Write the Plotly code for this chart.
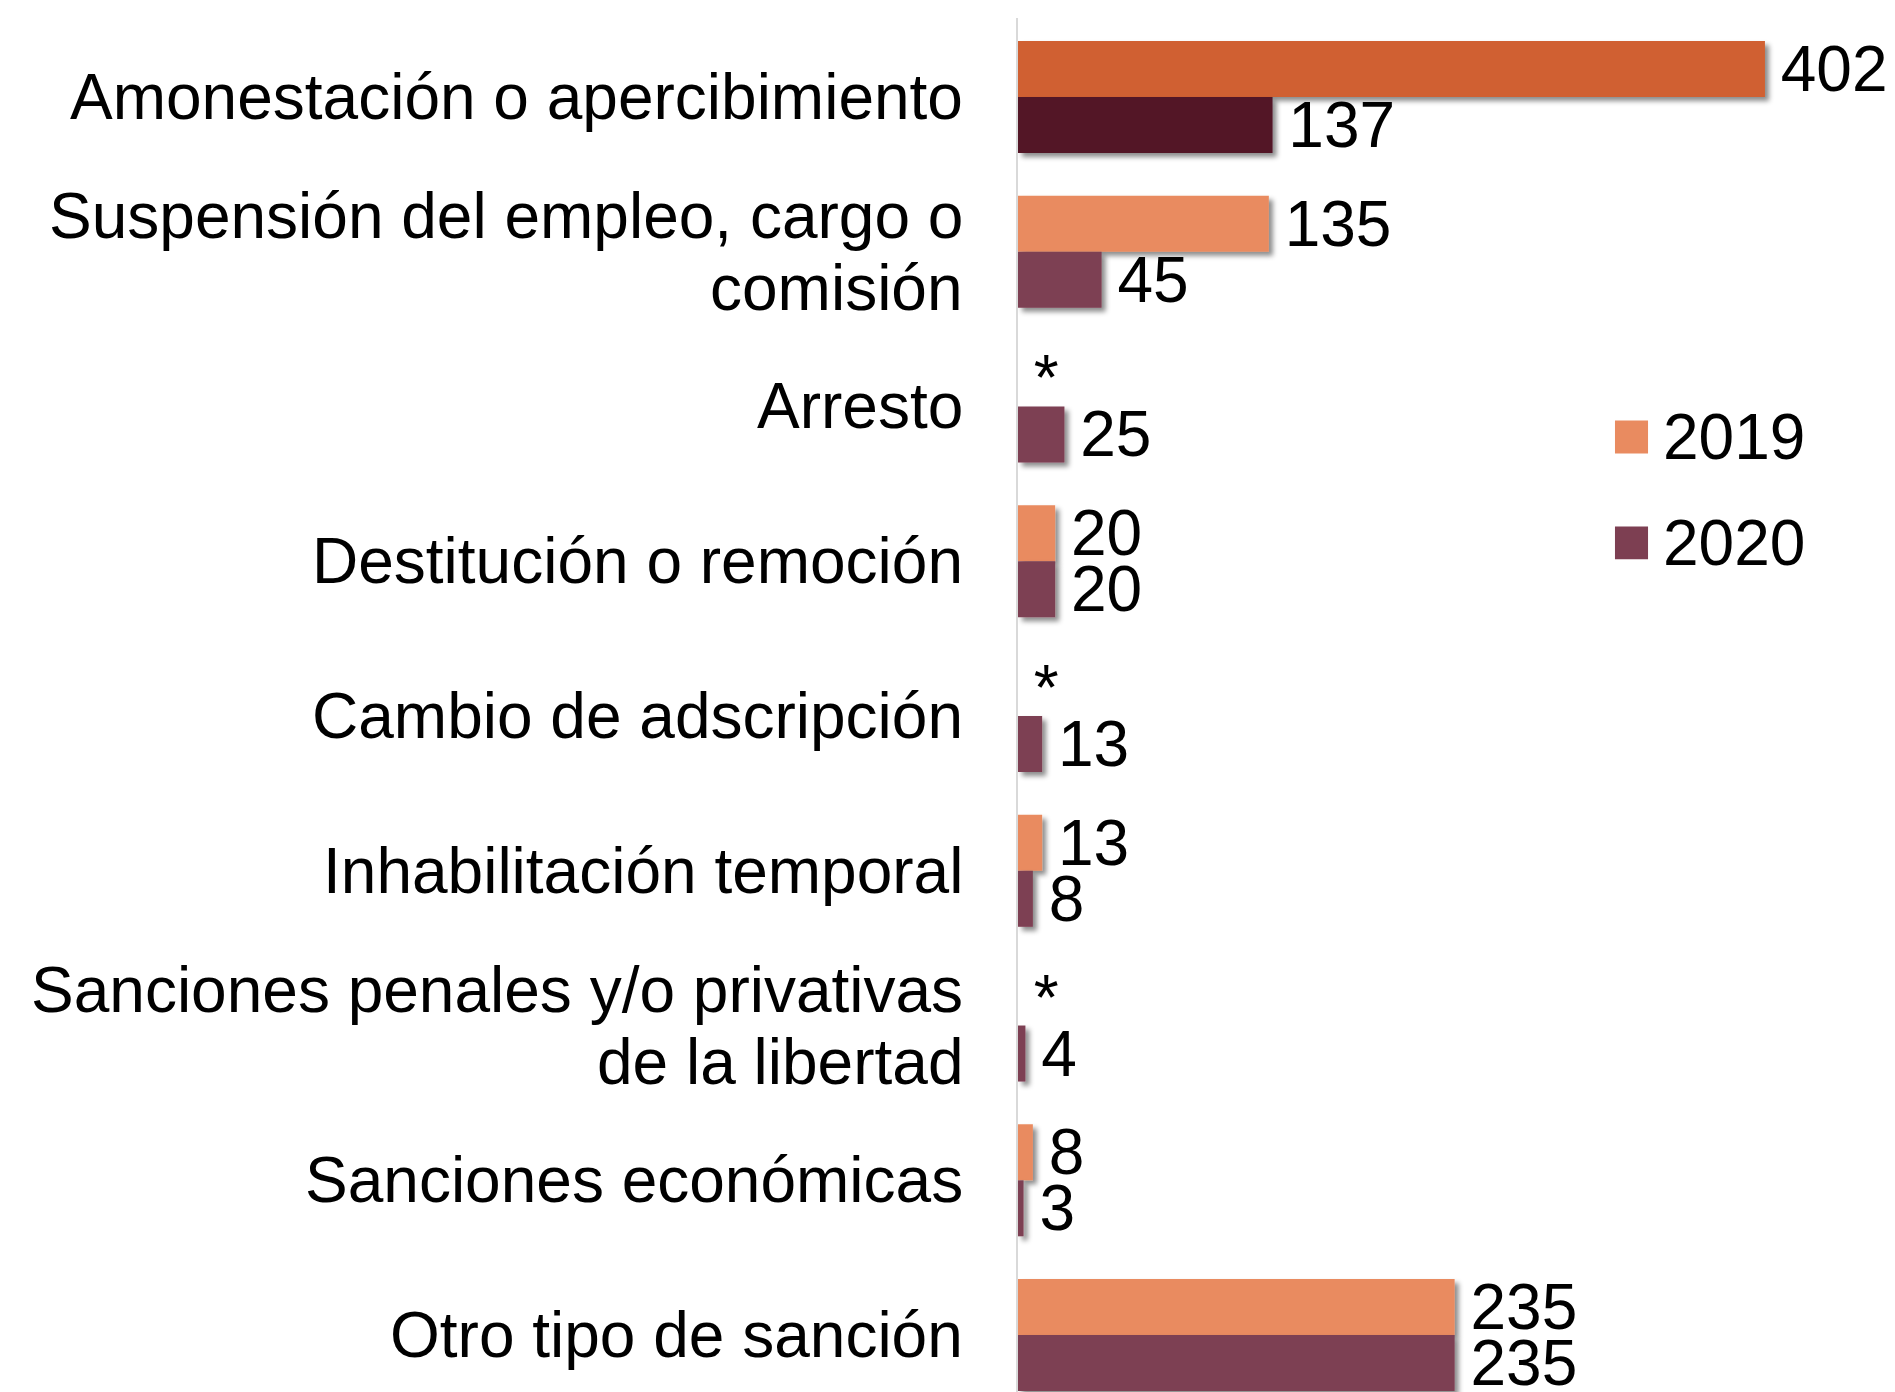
import plotly.graph_objects as go

# Tipos de sanción (de arriba hacia abajo)
categorias = [
    "Amonestación o apercibimiento",
    "Suspensión del empleo, cargo o\ncomisión",
    "Arresto",
    "Destitución o remoción",
    "Cambio de adscripción",
    "Inhabilitación temporal",
    "Sanciones penales y/o privativas\nde la libertad",
    "Sanciones económicas",
    "Otro tipo de sanción",
]
valores_2019 = [402, 135, None, 20, None, 13, None, 8, 235]
valores_2020 = [137, 45, 25, 20, 13, 8, 4, 3, 235]
anios = ["2019", "2020"]

# Paleta: la primera categoría se resalta con tonos más oscuros
color_2019 = "#E98B60"
color_2020 = "#7D3F52"
color_2019_destacado = "#D06030"
color_2020_destacado = "#521427"

FONT = "Liberation Sans, Arial, sans-serif"
FS = 64
THIN = "\u2009"

pos = list(range(len(categorias)))


def etiqueta(v):
    # los años sin dato se marcan con un asterisco
    return THIN + ("*" if v is None else str(v))


def colores(base, destacado):
    return [destacado if i == 0 else base for i in pos]


fig = go.Figure()
for anio, vals, c, cd in [
    (anios[0], valores_2019, color_2019, color_2019_destacado),
    (anios[1], valores_2020, color_2020, color_2020_destacado),
]:
    fig.add_trace(go.Bar(
        name=anio,
        orientation="h",
        y=pos,
        x=[0 if v is None else v for v in vals],
        text=[etiqueta(v) for v in vals],
        textposition="outside",
        constraintext="none",
        cliponaxis=False,
        textfont=dict(family=FONT, size=FS, color="#000000"),
        marker=dict(color=colores(c, cd), line=dict(width=0)),
        showlegend=False,
        hoverinfo="skip",
    ))

# Etiquetas de categoría, una anotación por renglón para un interlineado compacto
LINE = 72
for i, cat in enumerate(categorias):
    lineas = cat.split("\n")
    n = len(lineas)
    for k, txt in enumerate(lineas):
        fig.add_annotation(
            x=0, xref="paper", y=i, yref="y",
            text=txt, showarrow=False,
            xanchor="right", yanchor="middle",
            xshift=-53, yshift=((n - 1) / 2 - k) * LINE,
            font=dict(family=FONT, size=FS, color="#000000"),
        )

# Leyenda con marcadores cuadrados grandes
leyenda = [(anios[0], color_2019, 0.695), (anios[1], color_2020, 0.618)]
sq_w, sq_h = 0.0377, 0.024
for nombre, c, yc in leyenda:
    fig.add_shape(
        type="rect", xref="paper", yref="paper",
        x0=0.6807, x1=0.6807 + sq_w, y0=yc - sq_h / 2, y1=yc + sq_h / 2,
        fillcolor=c, line=dict(width=0),
    )
    fig.add_annotation(
        x=0.7328, xref="paper", y=yc, yref="paper",
        text=nombre, showarrow=False, xanchor="left", yanchor="middle",
        font=dict(family=FONT, size=FS, color="#000000"),
    )

fig.update_layout(
    width=1895, height=1392,
    margin=dict(l=1018, r=0, t=18, b=0, pad=0),
    barmode="group", bargap=0.276, bargroupgap=0,
    paper_bgcolor="white", plot_bgcolor="white",
    font=dict(family=FONT, size=FS, color="#000000"),
    xaxis=dict(range=[0, 472], showgrid=False, zeroline=False,
               showticklabels=False, showline=False, ticks=""),
    yaxis=dict(range=[8.368, -0.51], showgrid=False, zeroline=False,
               showticklabels=False, ticks="", showline=True,
               linecolor="#D9D9D9", linewidth=2),
)

# Sombra suave bajo las barras
sombra = """
var gd = document.getElementById('{plot_id}');
var svg = gd.querySelector('svg.main-svg');
var ns = 'http://www.w3.org/2000/svg';
var defs = svg.querySelector('defs');
var f = document.createElementNS(ns, 'filter');
f.setAttribute('id', 'barShadow');
f.setAttribute('filterUnits', 'userSpaceOnUse');
f.setAttribute('x', '-3000'); f.setAttribute('y', '-3000');
f.setAttribute('width', '8000'); f.setAttribute('height', '8000');
var ds = document.createElementNS(ns, 'feDropShadow');
ds.setAttribute('dx', '4'); ds.setAttribute('dy', '4');
ds.setAttribute('stdDeviation', '2.5');
ds.setAttribute('flood-color', '#000000');
ds.setAttribute('flood-opacity', '0.45');
f.appendChild(ds); defs.appendChild(f);
gd.querySelectorAll('.barlayer .point path').forEach(function(p) {
    p.setAttribute('filter', 'url(#barShadow)');
});
"""

fig.write_html("out.html", post_script=sombra)
